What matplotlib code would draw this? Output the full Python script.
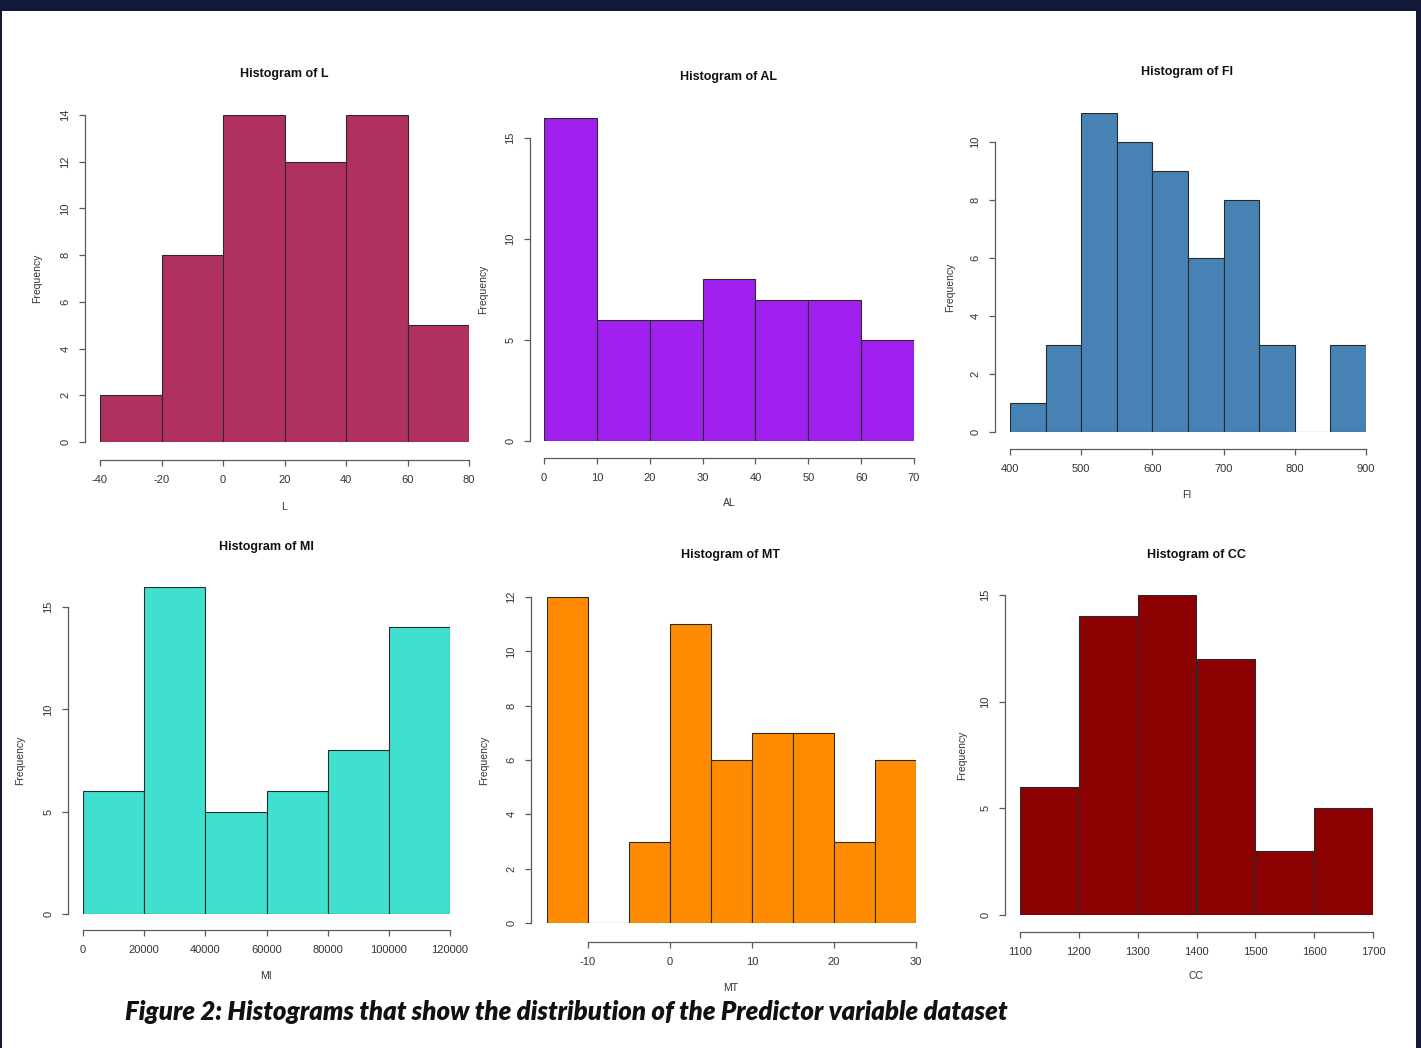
import matplotlib
matplotlib.use("Agg")
import matplotlib.pyplot as plt
from matplotlib.patches import Rectangle

W, H = 1421, 1048

# ---- data (bin edges + counts) ----
L_edges = [-40, -20, 0, 20, 40, 60, 80]
L_counts = [2, 8, 14, 12, 14, 5]
L_yticks = [0, 2, 4, 6, 8, 10, 12, 14]
L_xticks = [-40, -20, 0, 20, 40, 60, 80]

AL_edges = [0, 10, 20, 30, 40, 50, 60, 70]
AL_counts = [16, 6, 6, 8, 7, 7, 5]
AL_yticks = [0, 5, 10, 15]
AL_xticks = [0, 10, 20, 30, 40, 50, 60, 70]

FI_edges = [400, 450, 500, 550, 600, 650, 700, 750, 800, 850, 900]
FI_counts = [1, 3, 11, 10, 9, 6, 8, 3, 0, 3]
FI_yticks = [0, 2, 4, 6, 8, 10]
FI_xticks = [400, 500, 600, 700, 800, 900]

MI_edges = [0, 20000, 40000, 60000, 80000, 100000, 120000]
MI_counts = [6, 16, 5, 6, 8, 14]
MI_yticks = [0, 5, 10, 15]
MI_xticks = [0, 20000, 40000, 60000, 80000, 100000, 120000]

MT_edges = [-15, -10, -5, 0, 5, 10, 15, 20, 25, 30]
MT_counts = [12, 0, 3, 11, 6, 7, 7, 3, 6]
MT_yticks = [0, 2, 4, 6, 8, 10, 12]
MT_xticks = [-10, 0, 10, 20, 30]

CC_edges = [1100, 1200, 1300, 1400, 1500, 1600, 1700]
CC_counts = [6, 14, 15, 12, 3, 5]
CC_yticks = [0, 5, 10, 15]
CC_xticks = [1100, 1200, 1300, 1400, 1500, 1600, 1700]

# name, edges, counts, xticks, yticks, colour,
# pixel layout: x of first edge, x of last edge, y of 0, y of top tick,
# y-axis x, x-axis y, title xy, xlabel y, ylabel x
panels = [
    ("L", L_edges, L_counts, L_xticks, L_yticks, "#B03060",
     100, 469, 442, 115, 85, 460, (284, 74), 507, 37),
    ("AL", AL_edges, AL_counts, AL_xticks, AL_yticks, "#A020F0",
     544, 914, 441, 138, 530, 458, (729, 77), 503, 483),
    ("FI", FI_edges, FI_counts, FI_xticks, FI_yticks, "#4682B4",
     1010, 1366, 432, 142, 995, 449, (1187, 72), 495, 950),
    ("MI", MI_edges, MI_counts, MI_xticks, MI_yticks, "#40E0D0",
     83, 450, 914, 607, 68, 930, (266, 547), 976, 20),
    ("MT", MT_edges, MT_counts, MT_xticks, MT_yticks, "#FF8C00",
     547, 916, 923, 597, 531, 942, (731, 555), 988, 484),
    ("CC", CC_edges, CC_counts, CC_xticks, CC_yticks, "#8B0000",
     1020, 1373, 915, 595, 1005, 932, (1196, 555), 976, 962),
]

fig = plt.figure(figsize=(W / 100, H / 100), dpi=100, facecolor="#12183A")
fig.patches.append(Rectangle((2 / W, 0), 1414 / W, 1 - 11 / H,
                             transform=fig.transFigure, facecolor="white",
                             edgecolor="none", zorder=-10))

px2pt = 72 / 100
axis_col = "#5a5a5a"
txt_col = "#333333"

for (name, edges, counts, xticks, yticks, col,
     x0, x1, y0, ytop, yax, xax, tpos, xlab_y, ylab_x) in panels:
    per_unit = (y0 - ytop) / yticks[-1]
    ymax = max(max(counts), yticks[-1])
    top_px = y0 - ymax * per_unit
    ax = fig.add_axes([x0 / W, 1 - y0 / H, (x1 - x0) / W, (y0 - top_px) / H])
    ax.set_facecolor("none")
    ax.bar(edges[:-1], counts, width=[b - a for a, b in zip(edges[:-1], edges[1:])],
           align="edge", color=col, edgecolor="#2a2a2a", linewidth=0.8)
    ax.set_xlim(edges[0], edges[-1])
    ax.set_ylim(0, ymax)
    for s in ("top", "right"):
        ax.spines[s].set_visible(False)
    ax.spines["left"].set_position(("outward", (x0 - yax) * px2pt))
    ax.spines["bottom"].set_position(("outward", (xax - y0) * px2pt))
    ax.spines["left"].set_bounds(yticks[0], yticks[-1])
    ax.spines["bottom"].set_bounds(xticks[0], xticks[-1])
    for s in ("left", "bottom"):
        ax.spines[s].set_color(axis_col)
        ax.spines[s].set_linewidth(0.9)
    ax.set_xticks(xticks)
    ax.set_yticks(yticks)
    ax.set_xticklabels([str(v) for v in xticks], fontsize=8, color=txt_col,
                       family="Liberation Sans")
    ax.set_yticklabels([str(v) for v in yticks], fontsize=8, color=txt_col,
                       family="Liberation Sans", rotation=90, va="center")
    ax.tick_params(axis="both", length=4.5, width=0.9, color=axis_col, pad=6)

    fig.text(tpos[0] / W, 1 - tpos[1] / H, "Histogram of " + name,
             ha="center", va="center", fontsize=9, fontweight="bold",
             family="Liberation Sans", color="#111111")
    fig.text(tpos[0] / W, 1 - xlab_y / H, name, ha="center", va="center",
             fontsize=7.5, family="Liberation Sans", color=txt_col)
    fig.text(ylab_x / W, 1 - (y0 + ytop) / 2 / H, "Frequency", ha="center",
             va="center", rotation=90, fontsize=7.5, family="Liberation Sans",
             color=txt_col)

fig.text(125 / W, 1 - 1012 / H,
         "Figure 2: Histograms that show the distribution of the Predictor variable dataset",
         ha="left", va="center", fontsize=18.5, fontweight="heavy", style="italic",
         family="Lato", color="#111111")

fig.savefig("out.png", dpi=100, facecolor=fig.get_facecolor())
